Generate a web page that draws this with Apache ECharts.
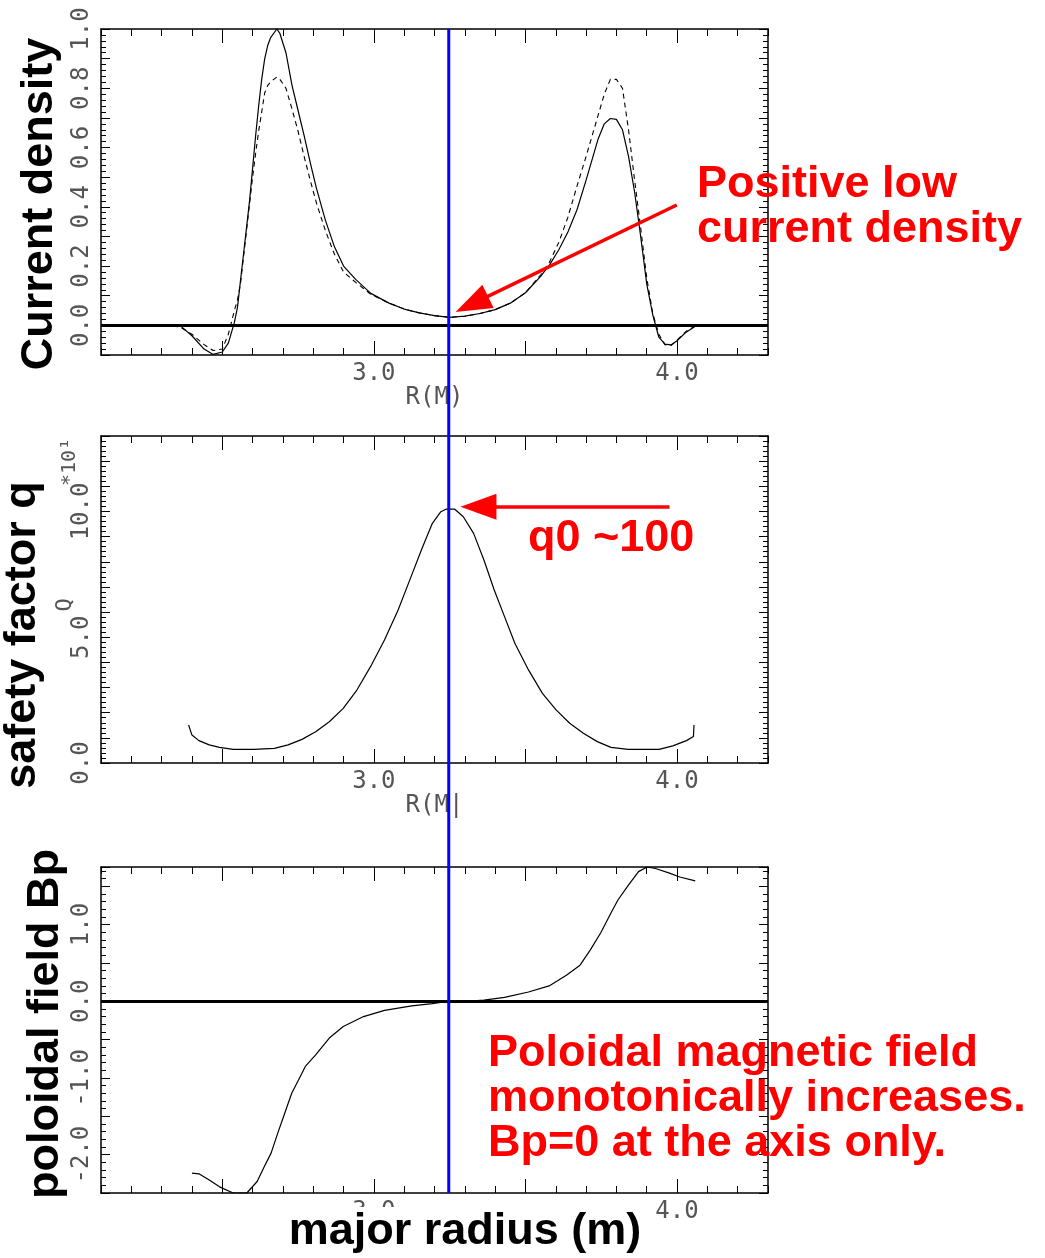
<!DOCTYPE html>
<html>
<head>
<meta charset="utf-8">
<script src="https://cdn.jsdelivr.net/npm/echarts@6/dist/echarts.min.js"></script>
<style>
html, body { margin: 0; padding: 0; background: #fff; }
#chart { width: 1045px; height: 1258px; }
</style>
</head>
<body>
<div id="chart"></div>
<script>
// major radius range (m)
const rMin = 2.1
const rMax = 4.3
const rAxis = 3.247 // magnetic axis position (blue line)

// tick positions
const rLabelTicks = [3.0, 4.0]
const rLongTicks = [2.5, 3.0, 3.5, 4.0]
const jLabelTicks = [0, 0.2, 0.4, 0.6, 0.8, 1.0]
const qLabelTicks = [0, 5, 10]
const bLabelTicks = [-2, -1, 0, 1]

// current density: solid and dashed profiles
const rJ = [2.10, 2.30, 2.36, 2.40, 2.44, 2.47, 2.50, 2.52, 2.54, 2.55,
  2.56, 2.57, 2.58, 2.59, 2.60, 2.61, 2.62, 2.63, 2.64, 2.65,
  2.66, 2.68, 2.69, 2.71, 2.73, 2.75, 2.77, 2.79, 2.81, 2.84,
  2.87, 2.90, 2.94, 2.99, 3.05, 3.10, 3.15, 3.20, 3.25, 3.30,
  3.35, 3.40, 3.45, 3.50, 3.55, 3.58, 3.61, 3.64, 3.67, 3.70,
  3.72, 3.74, 3.76, 3.78, 3.80, 3.82, 3.84, 3.86, 3.88, 3.90,
  3.92, 3.94, 3.96, 3.98, 4.00, 4.03, 4.06, 4.10, 4.30]
const jSolid = [0, 0, 0, -0.035, -0.08, -0.098, -0.09, -0.06, 0.01, 0.06,
  0.15, 0.24, 0.33, 0.42, 0.53, 0.64, 0.74, 0.83, 0.90, 0.945,
  0.972, 1.0, 0.985, 0.92, 0.81, 0.725, 0.64, 0.55, 0.465, 0.355,
  0.265, 0.20, 0.155, 0.108, 0.075, 0.055, 0.042, 0.033, 0.027, 0.031,
  0.040, 0.053, 0.075, 0.11, 0.165, 0.205, 0.255, 0.315, 0.39, 0.49,
  0.56, 0.63, 0.68, 0.698, 0.695, 0.66, 0.57, 0.45, 0.30, 0.14,
  0.035, -0.04, -0.063, -0.066, -0.052, -0.023, -0.003, 0, 0]
const jDashed = [0, 0, -0.005, -0.03, -0.065, -0.085, -0.08, -0.03, 0.05, 0.085,
  0.14, 0.23, 0.32, 0.41, 0.50, 0.58, 0.655, 0.72, 0.785, 0.81,
  0.822, 0.838, 0.83, 0.80, 0.73, 0.655, 0.57, 0.49, 0.415, 0.32,
  0.24, 0.18, 0.145, 0.105, 0.075, 0.055, 0.042, 0.033, 0.027, 0.031,
  0.040, 0.053, 0.075, 0.11, 0.17, 0.215, 0.28, 0.365, 0.47, 0.57,
  0.64, 0.71, 0.78, 0.83, 0.83, 0.80, 0.66, 0.49, 0.33, 0.16,
  0.04, -0.03, -0.065, -0.068, -0.05, -0.02, -0.002, 0, 0]

// safety factor q (x10)
const rQ = [2.389, 2.40, 2.423, 2.457, 2.491, 2.536, 2.604, 2.672, 2.717, 2.763,
  2.808, 2.853, 2.899, 2.944, 2.989, 3.035, 3.08, 3.125, 3.159, 3.193,
  3.221, 3.238, 3.267, 3.295, 3.329, 3.363, 3.397, 3.431, 3.465, 3.51,
  3.556, 3.601, 3.646, 3.691, 3.737, 3.782, 3.839, 3.941, 3.986, 4.031,
  4.054, 4.056]
const qVal = [1.51, 1.11, 0.89, 0.72, 0.62, 0.54, 0.54, 0.58, 0.72, 0.94,
  1.24, 1.64, 2.17, 2.90, 3.83, 4.89, 6.08, 7.48, 8.54, 9.53,
  9.99, 10.09, 10.09, 9.79, 9.13, 8.07, 6.88, 5.82, 4.76, 3.70,
  2.77, 2.11, 1.58, 1.18, 0.85, 0.62, 0.54, 0.54, 0.68, 0.89,
  1.05, 1.51]

// poloidal field Bp
const rB = [2.40, 2.423, 2.457, 2.491, 2.536, 2.581, 2.615, 2.638, 2.661, 2.683,
  2.706, 2.729, 2.751, 2.774, 2.808, 2.853, 2.899, 2.966, 3.035, 3.125,
  3.193, 3.247, 3.306, 3.363, 3.431, 3.51, 3.578, 3.635, 3.68, 3.714,
  3.748, 3.782, 3.805, 3.839, 3.873, 3.901, 3.929, 3.975, 4.009, 4.06]
const bpVal = [-2.24, -2.25, -2.33, -2.42, -2.50, -2.50, -2.35, -2.16, -1.98, -1.72,
  -1.46, -1.20, -1.03, -0.85, -0.70, -0.48, -0.33, -0.20, -0.12, -0.06,
  -0.03, 0.0, 0.0, 0.015, 0.05, 0.12, 0.20, 0.34, 0.47, 0.67,
  0.89, 1.15, 1.32, 1.51, 1.69, 1.75, 1.73, 1.67, 1.62, 1.57]

// annotation arrows: [tail, head] in data coords
const arrowJ = [[3.999, 0.406], [3.323, 0.0715]]
const arrowQ = [[3.975, 10.19], [3.345, 10.19]]

const zip = (xs, ys) => xs.map((x, i) => [x, ys[i]])

const chart = echarts.init(document.getElementById('chart'))

const tickFont = { color: '#555', fontFamily: 'DejaVu Sans Mono', fontSize: 24 }
const black = { color: '#000', width: 1.5 }

// grids: three panels plus an overlay for the axis line
const grids = [
  { left: 101, right: 277, top: 29, height: 326 },
  { left: 101, right: 277, top: 436, height: 327 },
  { left: 101, right: 277, top: 867, height: 326 },
  { left: 101, right: 277, top: 29, height: 1164 }
].map(g => Object.assign({ outerBoundsMode: 'none', containLabel: false }, g))

function xAxesFor(g, name) {
  const base = { gridIndex: g, type: 'value', min: rMin, max: rMax, splitLine: { show: false } }
  return [
    Object.assign({}, base, {
      position: 'bottom', interval: 0.1,
      name: name, nameLocation: 'middle', nameGap: 31, nameMoveOverlap: false,
      nameTextStyle: tickFont,
      axisLine: { show: true, onZero: false, lineStyle: black },
      axisTick: { inside: true, length: 7, lineStyle: { color: '#000' } },
      axisLabel: { customValues: rLabelTicks, formatter: v => v.toFixed(1), margin: 7, ...tickFont }
    }),
    Object.assign({}, base, {
      position: 'top', interval: 0.1,
      axisLine: { show: true, onZero: false, lineStyle: black },
      axisTick: { inside: true, length: 7, lineStyle: { color: '#000' } },
      axisLabel: { show: false }
    }),
    Object.assign({}, base, {
      position: 'bottom',
      axisLine: { show: false, onZero: false },
      axisTick: { inside: true, length: 14, customValues: rLongTicks, lineStyle: { color: '#000' } },
      axisLabel: { show: false }
    }),
    Object.assign({}, base, {
      position: 'top',
      axisLine: { show: false, onZero: false },
      axisTick: { inside: true, length: 14, customValues: rLongTicks, lineStyle: { color: '#000' } },
      axisLabel: { show: false }
    })
  ]
}

function yAxesFor(g, min, max, interval, labels) {
  const base = {
    gridIndex: g, type: 'value', min: min, max: max, interval: interval,
    splitLine: { show: false },
    axisLine: { show: true, onZero: false, lineStyle: black },
    axisTick: { inside: true, length: 9, lineStyle: { color: '#000' } },
    minorTick: { show: true, splitNumber: 5, length: 5, lineStyle: { color: '#000' } }
  }
  return [
    Object.assign({}, base, {
      position: 'left',
      axisLabel: { customValues: labels, rotate: 90, margin: 7, formatter: v => v.toFixed(1), ...tickFont }
    }),
    Object.assign({}, base, { position: 'right', axisLabel: { show: false } })
  ]
}

const xAxis = [].concat(
  xAxesFor(0, 'R(M)'),
  xAxesFor(1, 'R(M|'),
  xAxesFor(2, ''),
  [{ gridIndex: 3, type: 'value', min: rMin, max: rMax, show: false }]
)
const yAxis = [].concat(
  yAxesFor(0, -0.1, 1.0, 0.1, jLabelTicks),
  yAxesFor(1, 0, 13, 1, qLabelTicks),
  yAxesFor(2, -2.5, 1.75, 0.5, bLabelTicks),
  [{ gridIndex: 3, type: 'value', min: 0, max: 1, show: false }]
)

const curve = { type: 'line', showSymbol: false, symbol: 'none', smooth: false, clip: true }
const zeroLine = {
  silent: true, symbol: 'none', label: { show: false },
  lineStyle: { color: '#000', width: 3, type: 'solid' },
  data: [{ yAxis: 0 }]
}
function arrowLine(pts) {
  return {
    silent: true, symbol: ['none', 'triangle'], symbolSize: [26, 36],
    label: { show: false },
    lineStyle: { color: '#ff0000', width: 3.5, type: 'solid' },
    itemStyle: { color: '#ff0000' },
    data: [[{ coord: pts[0] }, { coord: pts[1] }]]
  }
}

const series = [
  Object.assign({}, curve, {
    name: 'J solid', xAxisIndex: 0, yAxisIndex: 0,
    data: zip(rJ, jSolid),
    lineStyle: { color: '#000', width: 1.2 },
    markLine: zeroLine
  }),
  Object.assign({}, curve, {
    name: 'J dashed', xAxisIndex: 0, yAxisIndex: 0,
    data: zip(rJ, jDashed),
    lineStyle: { color: '#000', width: 1.1, type: [5, 4] },
    markLine: arrowLine(arrowJ)
  }),
  Object.assign({}, curve, {
    name: 'q', xAxisIndex: 4, yAxisIndex: 2,
    data: zip(rQ, qVal),
    lineStyle: { color: '#000', width: 1.2 },
    markLine: arrowLine(arrowQ)
  }),
  Object.assign({}, curve, {
    name: 'Bp', xAxisIndex: 8, yAxisIndex: 4,
    data: zip(rB, bpVal),
    lineStyle: { color: '#000', width: 1.2 },
    markLine: zeroLine
  }),
  Object.assign({}, curve, {
    name: 'axis', xAxisIndex: 12, yAxisIndex: 6, z: 5,
    data: [[rAxis, 0], [rAxis, 1]],
    lineStyle: { color: '#0000ff', width: 3 }
  })
]

const bigFont = { fontFamily: 'Liberation Sans', fontWeight: 'bold', fontSize: 45 }
const redText = (x, y, text) => ({
  type: 'text', x: x, y: y, z: 100, silent: true,
  style: Object.assign({ text: text, fill: '#ff0000', lineHeight: 45, align: 'left', verticalAlign: 'top' }, bigFont)
})
const sideTitle = (x, y, text) => ({
  type: 'text', x: x, y: y, rotation: Math.PI / 2, z: 100, silent: true,
  style: Object.assign({ text: text, fill: '#000', align: 'center', verticalAlign: 'middle' }, bigFont)
})
const greyRot = (x, y, text, size) => ({
  type: 'text', x: x, y: y, rotation: Math.PI / 2, z: 50, silent: true,
  style: { text: text, fill: '#555', fontFamily: 'DejaVu Sans Mono', fontSize: size, align: 'center', verticalAlign: 'middle' }
})

chart.setOption({
  backgroundColor: '#fff',
  animation: false,
  grid: grids,
  xAxis: xAxis,
  yAxis: yAxis,
  series: series,
  graphic: [
    greyRot(70, 462, '*10¹', 20),
    greyRot(65, 605, 'Q', 22),
    sideTitle(40, 204, 'Current density'),
    sideTitle(23, 635, 'safety factor q'),
    sideTitle(46, 1024, 'poloidal field Bp'),
    {
      type: 'text', x: 465, y: 1232, z: 100, silent: true,
      style: Object.assign({
        text: 'major radius (m)', fill: '#000', align: 'center', verticalAlign: 'middle',
        backgroundColor: '#fff', padding: [0, 4], lineHeight: 50
      }, bigFont)
    },
    redText(697, 162, 'Positive low\ncurrent density'),
    redText(528, 516, 'q0 ~100'),
    redText(488, 1031, 'Poloidal magnetic field\nmonotonically increases.\nBp=0 at the axis only.')
  ]
})
</script>
</body>
</html>
